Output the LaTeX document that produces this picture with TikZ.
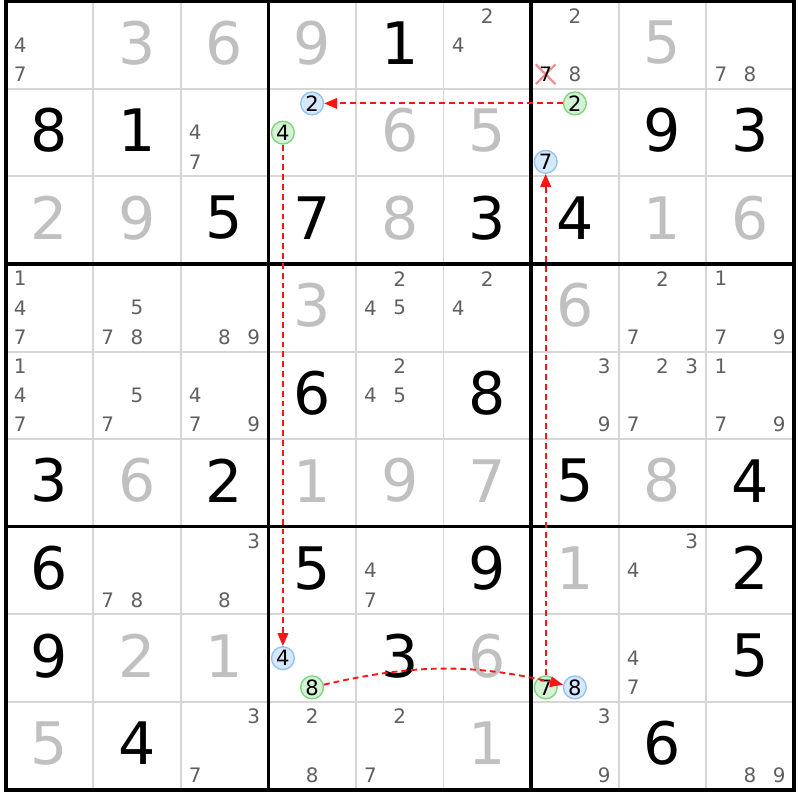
\documentclass[tikz,border=0pt]{standalone}
\usepackage{fontspec}
\setmainfont{DejaVu Sans}
\usetikzlibrary{arrows.meta,shapes.misc}

\definecolor{solvedgray}{RGB}{192,192,192}
\definecolor{candgray}{RGB}{96,96,96}
\definecolor{gridgray}{RGB}{214,214,214}
\definecolor{onfill}{RGB}{212,242,212}
\definecolor{ondraw}{RGB}{130,212,130}
\definecolor{offfill}{RGB}{214,232,251}
\definecolor{offdraw}{RGB}{150,196,242}
\definecolor{linkred}{RGB}{250,20,20}
\definecolor{crosspink}{RGB}{242,140,140}

\begin{document}
\begin{tikzpicture}[x=2.628cm,y=-2.628cm,>={Triangle[length=11pt,width=9pt]},
  big node/.style={inner sep=0pt,yshift=2pt,font=\fontsize{50}{50}\selectfont},
  given node/.style={big node,text=black},
  solved node/.style={big node,text=solvedgray},
  cand node/.style={inner sep=0pt,text=candgray,font=\fontsize{17}{17}\selectfont},
  chain node/.style={circle,inner sep=0pt,minimum size=19.5pt,line width=1.2pt,font=\fontsize{18}{18}\selectfont},
  on node/.style={chain node,draw=ondraw,fill=onfill},
  off node/.style={chain node,draw=offdraw,fill=offfill},
  spot/.style args={#1/#2/#3}{at={({#2-1+(mod(#3-1,3)+0.5)/3},{#1-1+(floor((#3-1)/3)+0.5)/3})}},
  link/.style={->,draw=linkred,line width=1.6pt,dash pattern=on 5pt off 3.4pt}]

  \useasboundingbox[fill=white] (-0.063,-0.014) rectangle (9.07,9.119);

  % grid
  \foreach \i in {1,2,4,5,7,8}
    \draw[gridgray,line width=1.7pt] (\i,0) -- (\i,9) (0,\i) -- (9,\i);
  \foreach \i in {3,6}
    \draw[line width=2.8pt] (\i,0) -- (\i,9) (0,\i) -- (9,\i);
  \draw[line width=3.4pt] (0,0) rectangle (9,9);

  % givens and solved cells
  \foreach \r/\c/\d in {1/5/1,2/1/8,2/2/1,2/8/9,2/9/3,3/3/5,3/4/7,3/6/3,3/7/4,
      5/4/6,5/6/8,6/1/3,6/3/2,6/7/5,6/9/4,7/1/6,7/4/5,7/6/9,7/9/2,
      8/1/9,8/5/3,8/9/5,9/2/4,9/8/6}
    \node[given node] (v\r\c) at (\c-0.5,\r-0.5) {\d};
  \foreach \r/\c/\d in {1/2/3,1/3/6,1/4/9,1/8/5,2/5/6,2/6/5,3/1/2,3/2/9,3/5/8,
      3/8/1,3/9/6,4/4/3,4/7/6,6/2/6,6/4/1,6/5/9,6/6/7,6/8/8,7/7/1,
      8/2/2,8/3/1,8/6/6,9/1/5,9/6/1}
    \node[solved node] (v\r\c) at (\c-0.5,\r-0.5) {\d};

  % candidates
  \foreach \r/\c/\ds in {1/1/{4,7},1/6/{2,4},1/7/{2,8},1/9/{7,8},2/3/{4,7},
      4/1/{1,4,7},4/2/{5,7,8},4/3/{8,9},4/5/{2,4,5},4/6/{2,4},4/8/{2,7},4/9/{1,7,9},
      5/1/{1,4,7},5/2/{5,7},5/3/{4,7,9},5/5/{2,4,5},5/7/{3,9},5/8/{2,3,7},5/9/{1,7,9},
      7/2/{7,8},7/3/{3,8},7/5/{4,7},7/8/{3,4},8/8/{4,7},
      9/3/{3,7},9/4/{2,8},9/5/{2,7},9/7/{3,9},9/9/{8,9}}
    \foreach \d in \ds
      \node[cand node,spot=\r/\c/\d] (c\r\c\d) {\d};

  % eliminated candidate
  \node[cross out,draw=crosspink,line width=1.8pt,minimum size=15pt,inner sep=0pt,spot=1/7/7] (x177) {};
  \node[cand node,text=black,spot=1/7/7] (c177) {7};

  % chain
  \node[off node,spot=2/4/2] (b2) {2};
  \node[on node,spot=2/4/4] (g4) {4};
  \node[on node,spot=2/7/2] (g2) {2};
  \node[off node,spot=2/7/7] (b7) {7};
  \node[off node,spot=8/4/4] (b4) {4};
  \node[on node,spot=8/4/8] (g8) {8};
  \node[on node,spot=8/7/7] (g7) {7};
  \node[off node,spot=8/7/8] (b8) {8};

  \draw[link] (g2) -- (b2);
  \draw[link] (g4) -- (b4);
  \draw[link] (g8) to[bend left=13] (b8);
  \draw[link] (g7) -- (b7);
\end{tikzpicture}
\end{document}
